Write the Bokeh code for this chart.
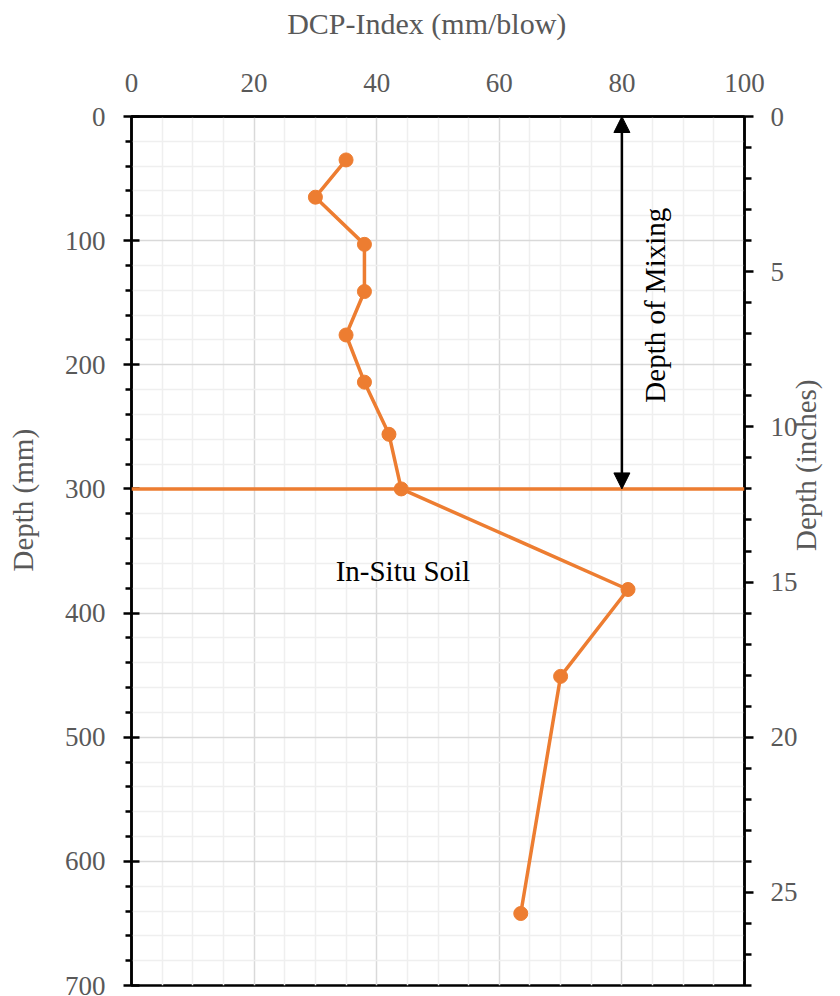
import math
from bokeh.plotting import figure
from bokeh.models import (LinearAxis, Range1d, FixedTicker, Arrow, NormalHead,
                          Label, ColumnDataSource, Span)
from bokeh.embed import file_html
from bokeh.resources import INLINE

# ---- data ----
depth_mm = [35, 65, 103, 141, 176, 214, 256, 300, 381, 451, 642]
dcp_index = [35, 30, 38, 38, 35, 38, 42, 44, 81, 70, 63.5]

mixing_depth = 300
mixing_arrow_x = 80
x_ticks = [0, 20, 40, 60, 80, 100]
y_ticks = [0, 100, 200, 300, 400, 500, 600, 700]
in_ticks = [0, 5, 10, 15, 20, 25]
in_max = 28

# ---- styling ----
W, H = 840, 996
BL, BR, BT, BB = 131, 96, 116, 11
ORANGE = "#ED7D31"
GRAY = "#595959"
FONT = "Liberation Serif"
NB = "\u00a0"

x_minor = [v for v in range(0, 101, 5) if v not in x_ticks]
y_minor = [v for v in range(0, 701, 20) if v not in y_ticks]
in_minor = [v for v in range(0, in_max + 1) if v not in in_ticks]

p = figure(width=W, height=H, x_range=Range1d(0, 100), y_range=Range1d(700, 0),
           x_axis_location="above", output_backend="svg", toolbar_location=None,
           min_border_left=BL, min_border_right=BR, min_border_top=BT,
           min_border_bottom=BB)
p.outline_line_color = "black"
p.outline_line_width = 2.5
p.outline_line_alpha = 1.0

# top axis
xa = p.xaxis[0]
xa.ticker = FixedTicker(ticks=x_ticks, minor_ticks=x_minor)
xa.axis_label = "DCP-Index (mm/blow)" + NB * 3
xa.axis_label_text_font = FONT
xa.axis_label_text_font_size = "30px"
xa.axis_label_text_font_style = "normal"
xa.axis_label_text_color = GRAY
xa.axis_label_standoff = 31
xa.major_label_text_font = FONT
xa.major_label_text_font_size = "27px"
xa.major_label_text_color = GRAY
xa.major_label_standoff = 25
xa.major_tick_in = 0
xa.major_tick_out = 0
xa.minor_tick_in = 0
xa.minor_tick_out = 0
xa.axis_line_color = "black"
xa.axis_line_width = 2.5

# left axis
ya = p.yaxis[0]
ya.ticker = FixedTicker(ticks=y_ticks, minor_ticks=y_minor)
ya.axis_label = NB * 14 + "Depth (mm)"
ya.axis_label_text_font = FONT
ya.axis_label_text_font_size = "29px"
ya.axis_label_text_font_style = "normal"
ya.axis_label_text_color = GRAY
ya.axis_label_standoff = 23
ya.major_label_text_font = FONT
ya.major_label_text_font_size = "27px"
ya.major_label_text_color = GRAY
ya.major_label_standoff = 18
ya.major_tick_in = 8
ya.major_tick_out = 8
ya.minor_tick_in = 0
ya.minor_tick_out = 6
ya.major_tick_line_width = 2.5
ya.minor_tick_line_width = 2.5
ya.axis_line_color = "black"
ya.axis_line_width = 2.5

# right axis (inches)
p.extra_y_ranges = {"inches": Range1d(in_max, 0)}
ra = LinearAxis(y_range_name="inches",
                ticker=FixedTicker(ticks=in_ticks, minor_ticks=in_minor))
ra.axis_label_orientation = math.pi / 2
ra.axis_label = "Depth (inches)"
ra.axis_label_text_font = FONT
ra.axis_label_text_font_size = "29px"
ra.axis_label_text_font_style = "normal"
ra.axis_label_text_color = GRAY
ra.axis_label_standoff = 5
ra.major_label_text_font = FONT
ra.major_label_text_font_size = "27px"
ra.major_label_text_color = GRAY
ra.major_label_standoff = 17
ra.major_tick_in = 0
ra.major_tick_out = 9
ra.minor_tick_in = 0
ra.minor_tick_out = 7
ra.major_tick_line_width = 2.5
ra.minor_tick_line_width = 2.5
ra.axis_line_color = "black"
ra.axis_line_width = 2.5
p.add_layout(ra, "right")

# grids
for g in (p.xgrid[0], p.ygrid[0]):
    g.grid_line_color = "#d9d9d9"
    g.grid_line_width = 1.5
    g.minor_grid_line_color = "#efefef"
    g.minor_grid_line_width = 1.5

# boundary line at mixing depth
p.add_layout(Span(location=mixing_depth, dimension="width",
                  line_color=ORANGE, line_width=3.5))

# data
src = ColumnDataSource(dict(x=dcp_index, y=depth_mm))
p.line("x", "y", source=src, line_color=ORANGE, line_width=3.5)
p.scatter("x", "y", source=src, size=14, fill_color=ORANGE, line_color=ORANGE)

# depth of mixing arrow
p.add_layout(Arrow(start=NormalHead(size=16, fill_color="black", line_color="black"),
                   end=NormalHead(size=16, fill_color="black", line_color="black"),
                   x_start=mixing_arrow_x, y_start=0, x_end=mixing_arrow_x,
                   y_end=mixing_depth, line_color="black", line_width=2.5))

p.add_layout(Label(x=85.4, y=152, text="Depth of Mixing", angle=math.pi / 2,
                   text_align="center", text_baseline="middle",
                   text_font=FONT, text_font_size="29px", text_color="black"))
p.add_layout(Label(x=33.3, y=366, text="In-Situ Soil",
                   text_align="left", text_baseline="middle",
                   text_font=FONT, text_font_size="29px", text_color="black"))

open("out.html", "w").write(file_html(p, INLINE))
